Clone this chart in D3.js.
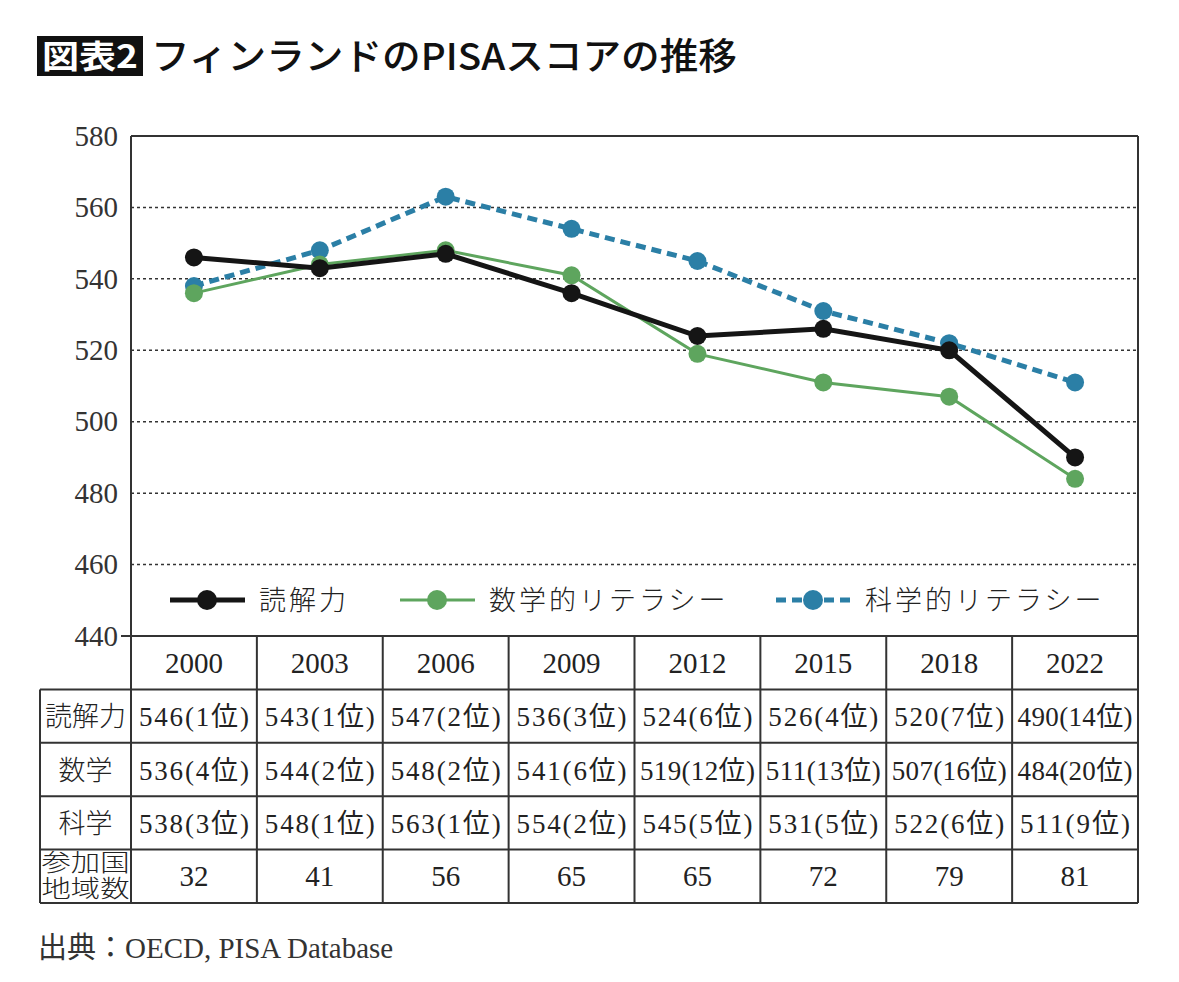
<meta charset="utf-8" />
<style>
  body { margin: 0; background: #fff; }
  text { font-family: "Liberation Serif", "Noto Sans CJK JP", serif; fill: #222; }
</style>
<svg width="1179" height="982"></svg>
<script src="https://cdn.jsdelivr.net/npm/d3@7/dist/d3.min.js"></script>
<script>
	var years = ['2000', '2003', '2006', '2009', '2012', '2015', '2018', '2022'];
	var reading = [546, 543, 547, 536, 524, 526, 520, 490];
	var math = [536, 544, 548, 541, 519, 511, 507, 484];
	var science = [538, 548, 563, 554, 545, 531, 522, 511];
	var readingRank = [1, 1, 2, 3, 6, 4, 7, 14];
	var mathRank = [4, 2, 2, 6, 12, 13, 16, 20];
	var scienceRank = [3, 1, 1, 2, 5, 5, 6, 9];
	var participants = [32, 41, 56, 65, 65, 72, 79, 81];
	var yTicks = [440, 460, 480, 500, 520, 540, 560, 580];

	var serif = '"Liberation Serif", "Noto Sans CJK JP", serif';
	var jp = '"Noto Sans CJK JP", sans-serif';

	var svg = d3.select('svg'),
		left = 131,
		right = 1138,
		plotTop = 136,
		plotBottom = 636,
		rowH = 53.4,
		labelLeft = 40;

	var x = d3.scalePoint().domain(years).range([left, right]).padding(0.5);
	var col = d3.scaleBand().domain(years).range([left, right]);
	var y = d3.scaleLinear().domain([440, 580]).range([plotBottom, plotTop]);

	// title
	svg.append('rect').attr('x', 37).attr('y', 36).attr('width', 106).attr('height', 40).attr('fill', '#111');
	svg.append('text').attr('x', 90).attr('y', 68).attr('text-anchor', 'middle')
		.attr('textLength', 96).attr('lengthAdjust', 'spacingAndGlyphs')
		.style('font-family', jp).style('font-weight', 700)
		.style('font-size', '32px').style('fill', '#fff').text('図表2');
	svg.append('text').attr('x', 151).attr('y', 70)
		.attr('textLength', 586).attr('lengthAdjust', 'spacingAndGlyphs')
		.style('font-family', jp).style('font-weight', 500)
		.style('font-size', '37px').style('fill', '#111')
		.text('フィンランドのPISAスコアの推移');

	// grid
	svg.append('g').selectAll('line')
		.data(yTicks.filter(d => d > 440 && d < 580))
		.join('line')
		.attr('x1', left).attr('x2', right)
		.attr('y1', d => y(d)).attr('y2', d => y(d))
		.attr('stroke', '#333').attr('stroke-width', 1.5).attr('stroke-dasharray', '3,3');

	// y axis labels
	var yAxis = svg.append('g')
		.attr('transform', 'translate(' + left + ',0)')
		.call(d3.axisLeft(y).tickValues(yTicks).tickSize(0).tickPadding(13));
	yAxis.attr('font-family', null);
	yAxis.select('.domain').remove();
	yAxis.selectAll('text').style('font-family', serif)
		.style('font-size', '29px').style('fill', '#333');

	// series
	var series = [
		{ name: '科学的リテラシー', values: science, color: '#2b7fa6', width: 5, dash: '10,6' },
		{ name: '数学的リテラシー', values: math, color: '#5ea55e', width: 3, dash: null },
		{ name: '読解力', values: reading, color: '#151515', width: 5, dash: null }
	];

	var line = d3.line().x((d, i) => x(years[i])).y(d => y(d));

	series.forEach(s => {
		svg.append('path').datum(s.values)
			.attr('d', line).attr('fill', 'none')
			.attr('stroke', s.color).attr('stroke-width', s.width)
			.attr('stroke-dasharray', s.dash);
		svg.append('g').selectAll('circle').data(s.values).join('circle')
			.attr('cx', (d, i) => x(years[i])).attr('cy', d => y(d))
			.attr('r', 9).attr('fill', s.color);
	});

	// legend
	var legend = [
		{ s: series[2], x: 170 },
		{ s: series[1], x: 400 },
		{ s: series[0], x: 776 }
	];
	var ly = 600;
	legend.forEach(l => {
		var g = svg.append('g').attr('transform', 'translate(' + l.x + ',' + ly + ')');
		g.append('line').attr('x1', 0).attr('x2', 75)
			.attr('stroke', l.s.color).attr('stroke-width', l.s.width)
			.attr('stroke-dasharray', l.s.dash);
		g.append('circle').attr('cx', 37).attr('r', 10).attr('fill', l.s.color);
		g.append('text').attr('x', 89).attr('y', 10)
			.style('font-family', jp).style('font-weight', 300)
			.style('font-size', '27px').style('letter-spacing', '3px')
			.text(l.s.name);
	});

	// frame + table lines
	var tableBottom = plotBottom + rowH * 5;
	var frame = svg.append('g').attr('stroke', '#333').attr('stroke-width', 2);
	frame.append('line').attr('x1', left).attr('x2', right).attr('y1', plotTop).attr('y2', plotTop);
	frame.append('line').attr('x1', left).attr('x2', left).attr('y1', plotTop).attr('y2', tableBottom);
	frame.append('line').attr('x1', right).attr('x2', right).attr('y1', plotTop).attr('y2', tableBottom);
	frame.append('line').attr('x1', left - 10).attr('x2', right).attr('y1', plotBottom).attr('y2', plotBottom);
	frame.append('line').attr('x1', labelLeft).attr('x2', labelLeft)
		.attr('y1', plotBottom + rowH).attr('y2', tableBottom);
	d3.range(1, 6).forEach(r => {
		frame.append('line').attr('x1', labelLeft).attr('x2', right)
			.attr('y1', plotBottom + rowH * r).attr('y2', plotBottom + rowH * r);
	});
	years.slice(1).forEach(yr => {
		frame.append('line').attr('x1', col(yr)).attr('x2', col(yr))
			.attr('y1', plotBottom).attr('y2', tableBottom);
	});

	// table text
	var cellText = (r, arr, fmt, size, fit) => {
		svg.append('g').selectAll('text').data(arr).join('text')
			.attr('x', (d, i) => x(years[i]))
			.attr('y', plotBottom + rowH * r + rowH / 2 + 10)
			.attr('text-anchor', 'middle')
			.attr('textLength', fit)
			.attr('lengthAdjust', fit ? 'spacing' : null)
			.style('font-family', serif)
			.style('font-size', size)
			.text(fmt);
	};
	var rankFit = ranks => (d, i) => ranks[i] > 9 ? 115 : 110;
	cellText(0, years, d => d, '29px', null);
	cellText(1, reading, (d, i) => d + '(' + readingRank[i] + '位)', '27px', rankFit(readingRank));
	cellText(2, math, (d, i) => d + '(' + mathRank[i] + '位)', '27px', rankFit(mathRank));
	cellText(3, science, (d, i) => d + '(' + scienceRank[i] + '位)', '27px', rankFit(scienceRank));
	cellText(4, participants, d => d, '29px', null);

	var rowLabels = ['読解力', '数学', '科学'];
	rowLabels.forEach((t, r) => {
		svg.append('text').attr('x', (labelLeft + left) / 2)
			.attr('y', plotBottom + rowH * (r + 1) + rowH / 2 + 10)
			.attr('text-anchor', 'middle')
			.style('font-family', jp).style('font-weight', 300)
			.style('font-size', '27px').text(t);
	});
	['参加国', '地域数'].forEach((t, k) => {
		svg.append('text').attr('x', (labelLeft + left) / 2)
			.attr('y', plotBottom + rowH * 4 + 21 + k * 26)
			.attr('text-anchor', 'middle')
			.attr('textLength', 88).attr('lengthAdjust', 'spacingAndGlyphs')
			.style('font-family', jp).style('font-weight', 300)
			.style('font-size', '24px').text(t);
	});

	// source
	svg.append('text').attr('x', 38).attr('y', 958)
		.style('font-family', serif)
		.style('font-size', '29px').style('fill', '#333')
		.text('出典：OECD, PISA Database');
</script>
